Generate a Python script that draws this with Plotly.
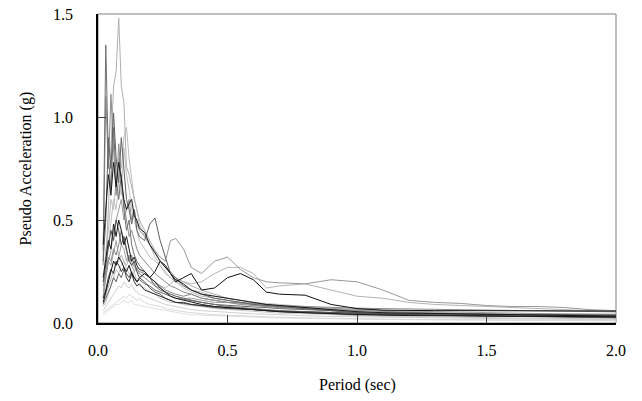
import plotly.graph_objects as go

# periods (sec) shared by all spectra
period = [0.02, 0.03, 0.04, 0.05, 0.06, 0.07, 0.08, 0.09, 0.10, 0.11, 0.12, 0.13, 0.14, 0.15, 0.16,
          0.18, 0.20, 0.22, 0.24, 0.26, 0.28, 0.30,
          0.33, 0.36, 0.40, 0.45, 0.50,
          0.55, 0.60, 0.65, 0.70,
          0.80, 0.90, 1.00,
          1.10, 1.20, 1.30, 1.40, 1.50, 1.60, 1.70, 1.80, 1.90, 2.00]

# pseudo acceleration (g), one list per record
sa01 = [0.12, 0.30, 0.55, 0.85, 1.15, 1.22, 1.48, 1.15, 1.07, 0.76, 0.72, 0.66, 0.60, 0.55, 0.50,
        0.45, 0.40, 0.35, 0.30, 0.27, 0.25, 0.22, 0.20, 0.18, 0.16, 0.14, 0.12,
        0.11, 0.10, 0.09, 0.085, 0.075, 0.065, 0.06,
        0.055, 0.05, 0.045, 0.04, 0.038, 0.035, 0.033, 0.03, 0.028, 0.026]
sa02 = [0.35, 1.35, 0.80, 0.65, 0.95, 0.70, 0.60, 0.72, 0.55, 0.45, 0.50, 0.38, 0.33, 0.30, 0.28,
        0.25, 0.22, 0.18, 0.16, 0.15, 0.14, 0.13, 0.12, 0.11, 0.10, 0.09, 0.08,
        0.075, 0.07, 0.065, 0.06, 0.055, 0.05, 0.045,
        0.042, 0.04, 0.038, 0.036, 0.034, 0.032, 0.03, 0.029, 0.028, 0.027]
sa03 = [0.28, 1.10, 0.75, 1.11, 0.85, 0.62, 0.87, 0.70, 0.58, 0.50, 0.42, 0.45, 0.40, 0.36, 0.33,
        0.30, 0.27, 0.24, 0.22, 0.20, 0.18, 0.17, 0.15, 0.14, 0.12, 0.11, 0.10,
        0.09, 0.085, 0.08, 0.075, 0.07, 0.065, 0.06,
        0.055, 0.05, 0.048, 0.045, 0.043, 0.04, 0.038, 0.036, 0.035, 0.034]
sa04 = [0.38, 0.55, 0.72, 0.62, 0.78, 0.66, 0.78, 0.70, 0.60, 0.55, 0.58, 0.60, 0.52, 0.50, 0.46,
        0.44, 0.38, 0.34, 0.30, 0.28, 0.24, 0.21, 0.19, 0.16, 0.14, 0.13, 0.12,
        0.11, 0.10, 0.09, 0.085, 0.075, 0.065, 0.055,
        0.05, 0.048, 0.045, 0.043, 0.04, 0.038, 0.036, 0.035, 0.034, 0.033]
sa05 = [0.10, 0.15, 0.20, 0.25, 0.30, 0.28, 0.32, 0.30, 0.27, 0.25, 0.28, 0.24, 0.22, 0.20, 0.22,
        0.24, 0.22, 0.25, 0.30, 0.27, 0.24, 0.20, 0.22, 0.24, 0.16, 0.17, 0.22,
        0.24, 0.21, 0.15, 0.14, 0.135, 0.09, 0.07,
        0.062, 0.06, 0.06, 0.06, 0.06, 0.058, 0.058, 0.058, 0.058, 0.058]
sa06 = [0.12, 0.20, 0.30, 0.35, 0.45, 0.50, 0.55, 0.60, 0.50, 0.55, 0.60, 0.50, 0.55, 0.48, 0.45,
        0.42, 0.38, 0.35, 0.32, 0.30, 0.40, 0.41, 0.36, 0.27, 0.24, 0.30, 0.32,
        0.26, 0.22, 0.20, 0.195, 0.19, 0.21, 0.20,
        0.16, 0.11, 0.10, 0.095, 0.085, 0.08, 0.08, 0.075, 0.065, 0.06]
sa07 = [0.10, 0.14, 0.18, 0.22, 0.25, 0.28, 0.30, 0.33, 0.30, 0.28, 0.32, 0.30, 0.27, 0.25, 0.24,
        0.22, 0.20, 0.19, 0.18, 0.17, 0.19, 0.21, 0.20, 0.19, 0.20, 0.24, 0.27,
        0.27, 0.24, 0.17, 0.18, 0.19, 0.16, 0.13,
        0.12, 0.10, 0.09, 0.085, 0.08, 0.075, 0.07, 0.065, 0.06, 0.055]
sa08 = [0.30, 0.50, 0.90, 0.75, 1.02, 0.80, 0.68, 0.90, 0.75, 0.60, 0.55, 0.48, 0.55, 0.45, 0.42,
        0.40, 0.48, 0.51, 0.40, 0.32, 0.24, 0.22, 0.18, 0.16, 0.14, 0.12, 0.11,
        0.10, 0.09, 0.085, 0.08, 0.07, 0.06, 0.05,
        0.045, 0.04, 0.038, 0.036, 0.034, 0.032, 0.03, 0.028, 0.026, 0.025]
sa09 = [0.06, 0.08, 0.10, 0.12, 0.14, 0.16, 0.18, 0.17, 0.20, 0.18, 0.17, 0.19, 0.16, 0.15, 0.14,
        0.13, 0.12, 0.11, 0.10, 0.09, 0.085, 0.08, 0.07, 0.065, 0.06, 0.055, 0.05,
        0.048, 0.045, 0.042, 0.04, 0.035, 0.032, 0.03,
        0.028, 0.026, 0.024, 0.022, 0.021, 0.02, 0.019, 0.018, 0.017, 0.016]
sa10 = [0.08, 0.10, 0.14, 0.18, 0.22, 0.26, 0.24, 0.28, 0.30, 0.26, 0.24, 0.22, 0.25, 0.20, 0.18,
        0.17, 0.15, 0.14, 0.12, 0.11, 0.10, 0.10, 0.09, 0.085, 0.08, 0.07, 0.065,
        0.06, 0.055, 0.05, 0.048, 0.045, 0.04, 0.035,
        0.032, 0.03, 0.028, 0.026, 0.025, 0.024, 0.023, 0.022, 0.021, 0.02]
sa11 = [0.15, 0.22, 0.30, 0.28, 0.35, 0.40, 0.32, 0.38, 0.36, 0.30, 0.33, 0.28, 0.25, 0.27, 0.24,
        0.22, 0.20, 0.18, 0.17, 0.15, 0.14, 0.13, 0.12, 0.12, 0.11, 0.10, 0.10,
        0.095, 0.09, 0.085, 0.08, 0.075, 0.07, 0.065,
        0.06, 0.058, 0.055, 0.052, 0.05, 0.048, 0.046, 0.045, 0.044, 0.043]
sa12 = [0.12, 0.16, 0.22, 0.26, 0.24, 0.30, 0.28, 0.25, 0.27, 0.22, 0.20, 0.24, 0.20, 0.18, 0.19,
        0.16, 0.15, 0.14, 0.13, 0.12, 0.11, 0.10, 0.10, 0.09, 0.085, 0.08, 0.075,
        0.07, 0.065, 0.06, 0.055, 0.05, 0.045, 0.04,
        0.04, 0.038, 0.036, 0.035, 0.034, 0.033, 0.032, 0.031, 0.03, 0.03]
sa13 = [0.20, 0.28, 0.35, 0.45, 0.40, 0.50, 0.45, 0.38, 0.42, 0.35, 0.30, 0.28, 0.30, 0.25, 0.22,
        0.20, 0.17, 0.15, 0.14, 0.12, 0.11, 0.10, 0.095, 0.09, 0.08, 0.075, 0.07,
        0.068, 0.065, 0.06, 0.058, 0.055, 0.05, 0.048,
        0.046, 0.045, 0.044, 0.042, 0.04, 0.04, 0.038, 0.037, 0.036, 0.035]
sa14 = [0.16, 0.25, 0.38, 0.50, 0.60, 0.55, 0.68, 0.62, 0.85, 0.72, 0.65, 0.55, 0.50, 0.45, 0.40,
        0.36, 0.32, 0.30, 0.28, 0.25, 0.22, 0.20, 0.18, 0.16, 0.15, 0.13, 0.12,
        0.11, 0.10, 0.095, 0.09, 0.08, 0.07, 0.065,
        0.06, 0.055, 0.05, 0.048, 0.045, 0.043, 0.04, 0.038, 0.036, 0.035]
sa15 = [0.05, 0.06, 0.07, 0.08, 0.09, 0.10, 0.11, 0.12, 0.13, 0.12, 0.14, 0.13, 0.12, 0.11, 0.12,
        0.10, 0.09, 0.085, 0.08, 0.07, 0.065, 0.06, 0.055, 0.05, 0.045, 0.04, 0.038,
        0.035, 0.033, 0.03, 0.028, 0.025, 0.022, 0.02,
        0.019, 0.018, 0.017, 0.016, 0.015, 0.014, 0.013, 0.013, 0.012, 0.012]
sa16 = [0.18, 0.25, 0.32, 0.30, 0.36, 0.33, 0.38, 0.45, 0.40, 0.35, 0.30, 0.33, 0.28, 0.26, 0.25,
        0.24, 0.22, 0.20, 0.18, 0.16, 0.15, 0.14, 0.13, 0.14, 0.12, 0.11, 0.10,
        0.10, 0.095, 0.09, 0.085, 0.08, 0.075, 0.072,
        0.07, 0.068, 0.066, 0.064, 0.062, 0.06, 0.058, 0.056, 0.055, 0.054]
sa17 = [0.22, 0.30, 0.40, 0.36, 0.48, 0.42, 0.50, 0.45, 0.38, 0.42, 0.35, 0.30, 0.32, 0.28, 0.26,
        0.25, 0.22, 0.20, 0.17, 0.15, 0.13, 0.12, 0.11, 0.10, 0.09, 0.08, 0.075,
        0.07, 0.065, 0.06, 0.055, 0.05, 0.045, 0.04,
        0.038, 0.036, 0.035, 0.034, 0.033, 0.032, 0.031, 0.03, 0.03, 0.03]
sa18 = [0.20, 0.35, 0.45, 0.60, 0.55, 0.70, 0.80, 0.75, 0.90, 0.95, 0.80, 0.70, 0.60, 0.55, 0.48,
        0.42, 0.38, 0.32, 0.28, 0.24, 0.22, 0.20, 0.17, 0.15, 0.13, 0.12, 0.11,
        0.10, 0.09, 0.085, 0.08, 0.07, 0.06, 0.055,
        0.05, 0.047, 0.044, 0.042, 0.04, 0.038, 0.036, 0.034, 0.032, 0.03]
sa19 = [0.09, 0.12, 0.15, 0.18, 0.22, 0.20, 0.24, 0.22, 0.26, 0.24, 0.22, 0.25, 0.22, 0.20, 0.21,
        0.19, 0.18, 0.16, 0.15, 0.14, 0.13, 0.12, 0.115, 0.11, 0.10, 0.09, 0.085,
        0.08, 0.078, 0.075, 0.07, 0.065, 0.06, 0.05,
        0.045, 0.045, 0.044, 0.044, 0.043, 0.043, 0.042, 0.042, 0.041, 0.04]
sa20 = [0.04, 0.05, 0.06, 0.07, 0.08, 0.09, 0.09, 0.10, 0.11, 0.10, 0.10, 0.11, 0.09, 0.09, 0.085,
        0.08, 0.075, 0.07, 0.065, 0.06, 0.055, 0.05, 0.045, 0.04, 0.038, 0.035, 0.032,
        0.03, 0.028, 0.026, 0.024, 0.022, 0.02, 0.018,
        0.017, 0.016, 0.015, 0.014, 0.013, 0.012, 0.012, 0.011, 0.011, 0.01]

records = [
    (sa20, "#e0e0e0"), (sa15, "#d8d8d8"), (sa09, "#d0d0d0"), (sa10, "#c8c8c8"),
    (sa18, "#bcbcbc"), (sa14, "#c0c0c0"), (sa01, "#b0b0b0"), (sa07, "#b4b4b4"),
    (sa11, "#a0a0a0"), (sa06, "#999999"), (sa16, "#888888"), (sa03, "#8c8c8c"),
    (sa02, "#707070"), (sa19, "#666666"), (sa08, "#606060"), (sa13, "#505050"),
    (sa12, "#303030"), (sa17, "#1a1a1a"), (sa05, "#111111"), (sa04, "#1a1a1a"),
]

fig = go.Figure()
for sa, col in records:
    fig.add_trace(go.Scatter(x=period, y=sa, mode="lines",
                             line=dict(color=col, width=1), showlegend=False))

axis_style = dict(showgrid=False, zeroline=False, showline=True, linecolor="black",
                  linewidth=1.5, ticks="inside", ticklen=8, tickcolor="#404040",
                  tickformat=".1f", automargin=False, ticklabeloverflow="allow",
                  tickfont=dict(family="Liberation Serif", size=16, color="black"))

fig.update_xaxes(range=[0, 2.0], dtick=0.5, ticklabelstandoff=12, **axis_style)
fig.update_yaxes(range=[0, 1.5], dtick=0.5, ticklabelstandoff=20, **axis_style)

# grey frame on top and right
fig.add_shape(type="rect", xref="paper", yref="paper", x0=0, x1=1, y0=0, y1=1,
              line=dict(color="#808080", width=1), layer="below")

fig.add_annotation(text="Period (sec)", xref="paper", yref="paper", x=0.5, y=-0.2,
                   yanchor="middle", showarrow=False,
                   font=dict(family="Liberation Serif", size=16, color="black"))
fig.add_annotation(text="Pseudo Acceleration (g)", xref="paper", yref="paper", x=-0.139, y=0.5,
                   xanchor="center", yanchor="middle", textangle=-90, showarrow=False,
                   font=dict(family="Liberation Serif", size=16, color="black"))

fig.update_layout(width=642, height=401, margin=dict(l=98, r=26, t=14, b=78, autoexpand=False),
                  plot_bgcolor="white", paper_bgcolor="white")

# drop the browser's default 8px body margin so the figure fills the window
fig.write_html("out.html", config={"displayModeBar": False},
               post_script="document.body.style.margin='0';")
